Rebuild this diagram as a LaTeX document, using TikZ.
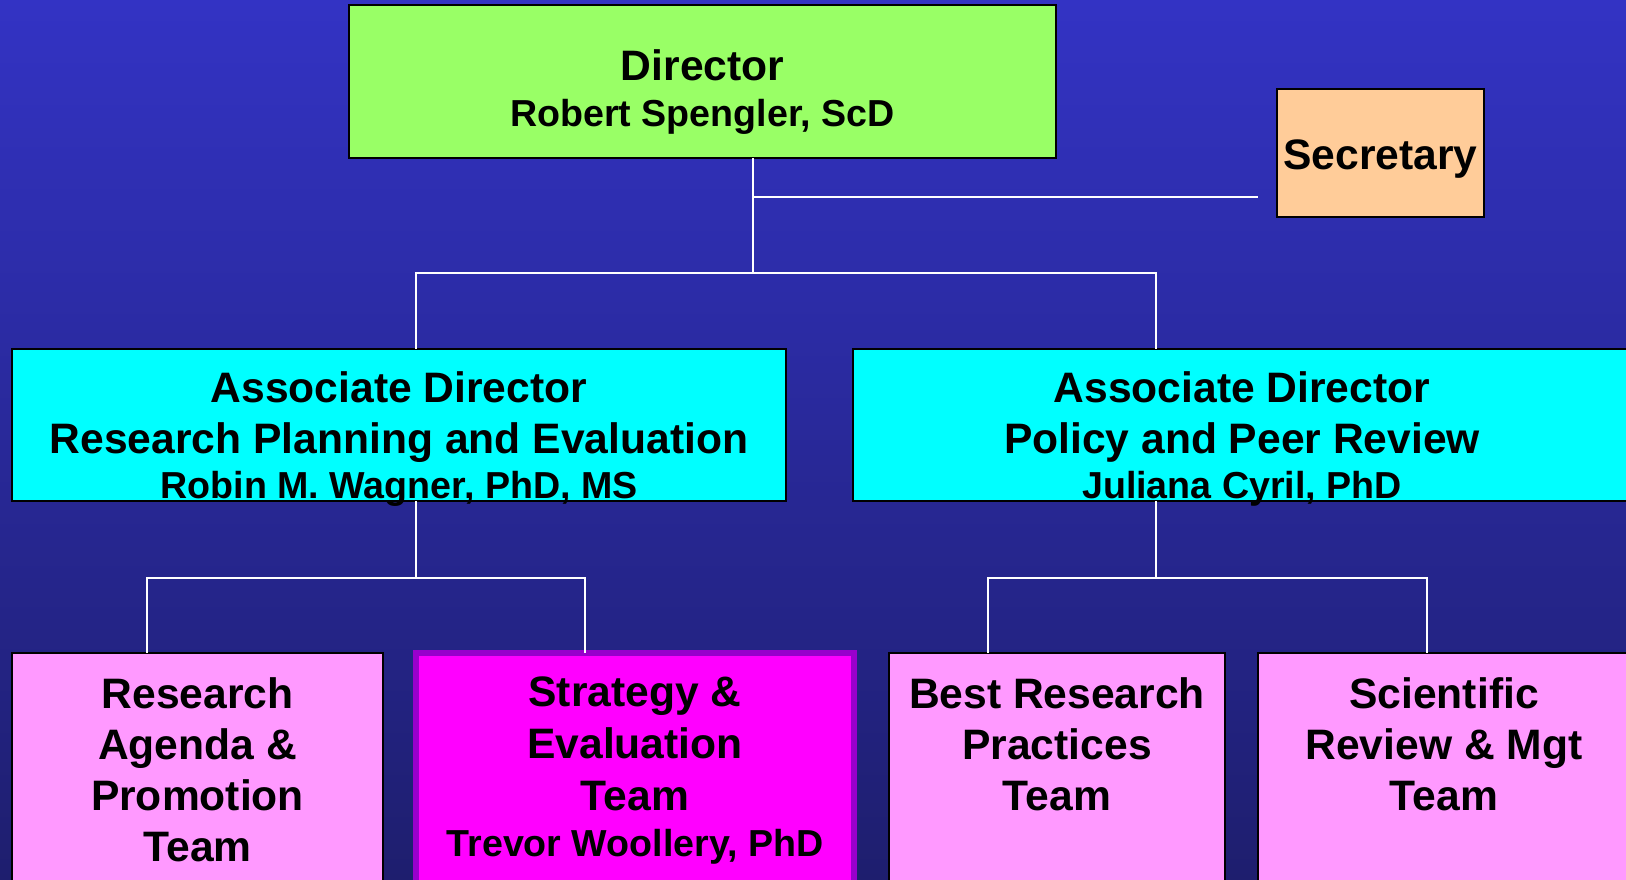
\documentclass[tikz,border=0pt]{standalone}
\usepackage{fontspec}
\setmainfont{Liberation Sans}
\definecolor{navytop}{RGB}{51, 51, 196}
\definecolor{navybottom}{RGB}{30, 30, 110}
\definecolor{lightgreen}{RGB}{153, 255, 102}
\definecolor{peach}{RGB}{255, 204, 153}
\definecolor{aqua}{RGB}{0, 255, 255}
\definecolor{lightpink}{RGB}{255, 153, 255}
\definecolor{fuchsia}{RGB}{255, 0, 255}
\definecolor{purplerim}{RGB}{153, 0, 204}
\newcommand{\namefont}{\fontsize{37.6}{44}\selectfont}

\begin{document}
\begin{tikzpicture}[
        x=1pt, y=-1pt,
        box/.style={draw=black, line width=2pt, anchor=north west, inner sep=0pt, outer sep=0pt},
        wire/.style={draw=white, line width=2pt},
        boxtext/.style={anchor=north, align=center, inner sep=0pt, text=black,
            font=\bfseries\fontsize{42.6}{51}\selectfont}
    ]

    \useasboundingbox (0,0) rectangle (1626,879);
    \clip (0,0) rectangle (1626,879);
    \shade[top color=navytop, bottom color=navybottom] (0,0) rectangle (1626,879);

    % junctions of the connectors
    \coordinate (j0) at (753,273);
    \coordinate (j1) at (753,197);
    \coordinate (secend) at (1258,197);
    \coordinate (a1) at (416,273);
    \coordinate (a2) at (1156,273);
    \coordinate (b1) at (416,578);
    \coordinate (b2) at (1156,578);
    \coordinate (c1) at (147,578);
    \coordinate (c2) at (585,578);
    \coordinate (c3) at (988,578);
    \coordinate (c4) at (1427,578);

    % boxes
    \node[box, fill=lightgreen, minimum width=707, minimum height=153] (dir) at (349,5) {};
    \node[box, fill=peach, minimum width=207, minimum height=128] (sec) at (1277,89) {};
    \node[box, fill=aqua, minimum width=774, minimum height=152] (ad1) at (12,349) {};
    \node[box, fill=aqua, minimum width=778, minimum height=152] (ad2) at (853,349) {};
    \node[box, fill=lightpink, minimum width=371, minimum height=240] (t1) at (12,653) {};
    \node[box, fill=fuchsia, draw=purplerim, line width=6pt,
          minimum width=438, minimum height=240] (t2) at (416,653) {};
    \node[box, fill=lightpink, minimum width=336, minimum height=240] (t3) at (889,653) {};
    \node[box, fill=lightpink, minimum width=372, minimum height=240] (t4) at (1258,653) {};

    % connectors
    \draw[wire] (dir.south -| j0) -- (j0);
    \draw[wire] (j1) -- (secend);
    \draw[wire] (ad1.north -| a1) |- (a2) -- (ad2.north -| a2);
    \draw[wire] (ad1.south -| b1) -- (b1);
    \draw[wire] (t1.north -| c1) |- (c2) -- (t2.north -| c2);
    \draw[wire] (ad2.south -| b2) -- (b2);
    \draw[wire] (t3.north -| c3) |- (c4) -- (t4.north -| c4);

    % texts
    \node[boxtext] (dirt) at ([yshift=-44pt]dir.north)
        {Director\\[-5pt]{\namefont Robert Spengler, ScD}};
    \node[boxtext] (sect) at ([yshift=-51pt]sec.north) {Secretary};
    \node[boxtext] (ad1t) at ([yshift=-22pt]ad1.north)
        {Associate Director\\Research Planning and Evaluation\\[-6pt]{\namefont Robin M. Wagner, PhD, MS}};
    \node[boxtext] (ad2t) at ([yshift=-22pt]ad2.north)
        {Associate Director\\Policy and Peer Review\\[-6pt]{\namefont Juliana Cyril, PhD}};
    \node[boxtext] (t1t) at ([yshift=-24pt]t1.north) {Research\\Agenda \&\\Promotion\\Team};
    \node[boxtext] (t2t) at ([yshift=-24pt]t2.north)
        {Strategy \&\\[1pt]Evaluation\\[1pt]Team\\[-5pt]{\namefont Trevor Woollery, PhD}};
    \node[boxtext] (t3t) at ([yshift=-24pt]t3.north) {Best Research\\Practices\\Team};
    \node[boxtext] (t4t) at ([yshift=-24pt]t4.north) {Scientific\\Review \& Mgt\\Team};
\end{tikzpicture}
\end{document}
